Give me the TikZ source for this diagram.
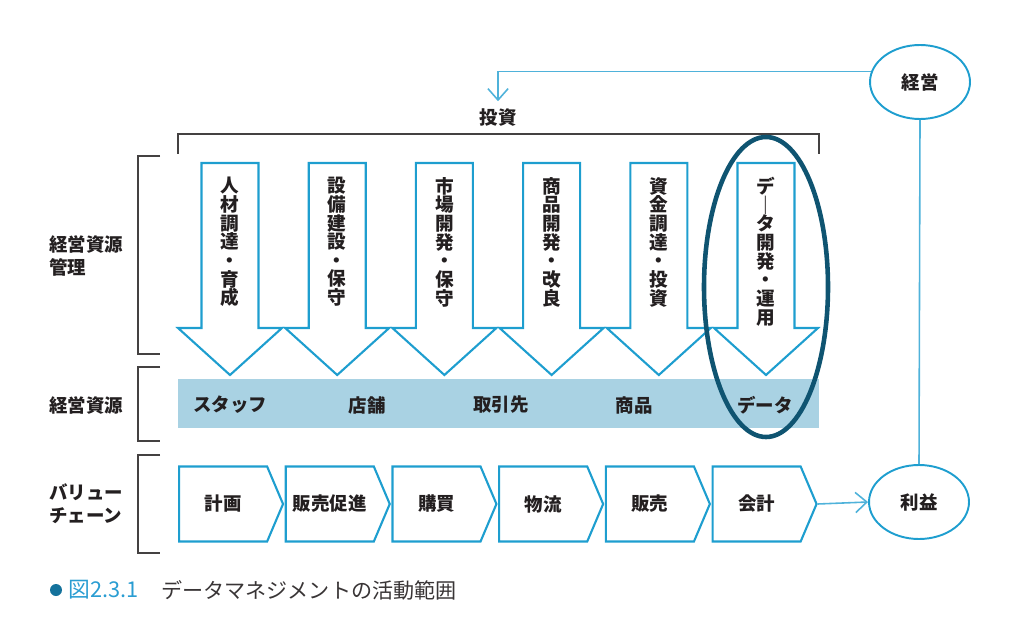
\documentclass[tikz,border=0pt]{standalone}
\usepackage{fontspec}
\setmainfont{Noto Sans CJK JP}
\usetikzlibrary{positioning,shapes.geometric,shapes.symbols,arrows.meta}
\definecolor{lineblue}{HTML}{1E9ECF}
\definecolor{fbblue}{HTML}{4FB2DA}
\definecolor{bandblue}{HTML}{A9D2E3}
\definecolor{ringteal}{HTML}{0F5471}
\definecolor{inkgray}{HTML}{231F20}
\definecolor{capblue}{HTML}{2A9DD2}
\definecolor{dotblue}{HTML}{14729C}
\begin{document}
\begin{tikzpicture}[x=0.02cm,y=-0.02cm,line join=miter,text=inkgray,
    font=\bfseries\fontsize{10.5}{13}\selectfont,
    blueline/.style={draw=lineblue,line width=1.2pt},
    fbline/.style={draw=fbblue,line width=0.9pt},
    bracketline/.style={draw=inkgray!85,line width=0.9pt},
    barb/.style={-{Straight Barb[length=6.5pt,width=11.5pt,line width=0.9pt]}},
    vtext/.style={anchor=north,align=center,inner sep=0pt,
        font=\bfseries\fontsize{10.6}{10.6}\selectfont},
    chain/.style={shape=signal,signal to=east,signal pointer angle=134,
        blueline,minimum width=2.08cm,minimum height=1.5cm,inner sep=0pt},
    goal/.style={shape=ellipse,draw=lineblue,line width=1.1pt,
        minimum width=2cm,minimum height=1.48cm,inner sep=0pt}]
  \useasboundingbox (0,0) rectangle (1024,628);
  % management / profit
  \node[goal] (keiei) at (920,82) {経営};
  \node[goal] (rieki) at (919,502) {利益};
  \node (tousi) at (498,118) {投資};
  \draw[fbline] (keiei.south) -- (rieki.north);
  \draw[fbline,barb] (keiei.168) -| ([yshift=1pt]tousi.north);
  % brackets
  \draw[bracketline] (178,154) |- (819,134) -- (819,154);
  \draw[bracketline] (160,156) -| (138,354) -- (160,354);
  \draw[bracketline] (160,367) -| (138,441) -- (160,441);
  \draw[bracketline] (160,455) -| (138,553) -- (160,553);
  \node[anchor=west,align=left] (lbl1) at (43,256) {経営資源\\管理};
  \node[anchor=west] (lbl2) at (43,405) {経営資源};
  \node[anchor=west,align=left] (lbl3) at (43,504) {バリュー\\チェーン};
  % resource management arrows
  \foreach \t [count=\i] in {{人\\材\\調\\達\\・\\育\\成},{設\\備\\建\\設\\・\\保\\守},
      {市\\場\\開\\発\\・\\保\\守},{商\\品\\開\\発\\・\\改\\良},
      {資\\金\\調\\達\\・\\投\\資},{デ\\｜\\タ\\開\\発\\・\\運\\用}}{
    \pgfmathsetmacro\x{230+107.2*(\i-1)}
    \draw[blueline] (\x-28.5,163) -- (\x+28.5,163) -- (\x+28.5,328) -- (\x+52,328)
      -- (\x,375) -- (\x-52,328) -- (\x-28.5,328) -- cycle;
    \node[vtext] (m\i) at (\x,177) {\t};
  }
  % resources band
  \fill[bandblue] (178,379) rectangle (819,428);
  \foreach \x/\t [count=\i] in {230/スタッフ,367/店舗,501/取引先,634/商品,765/データ}
    \node (r\i) at (\x,405) {\t};
  \draw[ringteal,line width=2.6pt] (766,287) ellipse [x radius=62,y radius=150];
  % value chain
  \node[chain,anchor=west] (c1) at (178,504) {計画};
  \node[chain,right=0.3pt of c1] (c2) {販売促進};
  \node[chain,right=0.3pt of c2] (c3) {購買};
  \node[chain,right=0.3pt of c3] (c4) {物流};
  \node[chain,right=0.3pt of c4] (c5) {販売};
  \node[chain,right=0.3pt of c5] (c6) {会計};
  \draw[fbline,barb] (c6.east) -- (rieki.west);
  % caption
  \fill[dotblue] (56,590) circle[radius=6];
  \node[anchor=west,inner sep=0pt,text=capblue,font=\fontsize{12.4}{14}\selectfont]
    (capnum) at (68,590) {図2.3.1};
  \node[anchor=west,inner sep=0pt,text=inkgray!90,font=\fontsize{12}{14}\selectfont]
    (captxt) at (161,590) {データマネジメントの活動範囲};
\end{tikzpicture}
\end{document}
